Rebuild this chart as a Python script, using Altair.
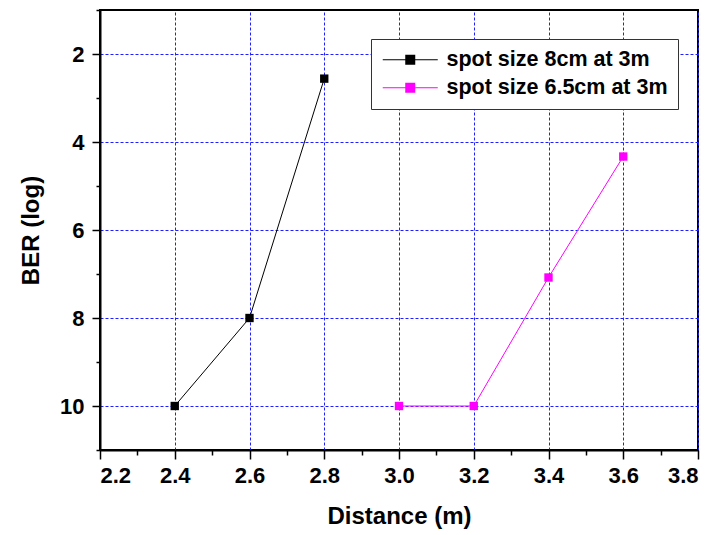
import altair as alt
import pandas as pd

series_a = "spot size 8cm at 3m"
series_b = "spot size 6.5cm at 3m"
dist_a = [2.4, 2.6, 2.8]
ber_a = [10.0, 8.0, 2.56]
dist_b = [3.0, 3.2, 3.4, 3.6]
ber_b = [10.0, 10.0, 7.08, 4.33]

x_ticks = [2.2, 2.3, 2.4, 2.5, 2.6, 2.7, 2.8, 2.9, 3.0, 3.1, 3.2, 3.3, 3.4, 3.5, 3.6, 3.7, 3.8]
y_ticks = [1, 2, 3, 4, 5, 6, 7, 8, 9, 10, 11]

df = pd.DataFrame({
    "Distance": dist_a + dist_b,
    "BER": ber_a + ber_b,
    "Series": [series_a] * len(dist_a) + [series_b] * len(dist_b),
})

FONT = "Liberation Sans"
x_major = "round(datum.value*10) % 2 === 0"
y_major = "datum.value % 2 === 0"

x_enc = alt.X(
    "Distance:Q",
    scale=alt.Scale(domain=[2.2, 3.8], nice=False, zero=False),
    axis=alt.Axis(
        values=x_ticks,
        title="Distance (m)",
        format=".1f",
        labelExpr=f"{x_major} ? datum.label : ''",
        tickSize={"condition": {"test": x_major, "value": 9}, "value": 5},
        gridOpacity={"condition": {"test": x_major, "value": 1}, "value": 0},
        gridColor="#2020ff",
        grid=True,
        labelPadding=6,
        titlePadding=18,
    ),
)
y_enc = alt.Y(
    "BER:Q",
    scale=alt.Scale(domain=[1, 11], reverse=True, nice=False, zero=False),
    axis=alt.Axis(
        values=y_ticks,
        title="BER (log)",
        labelExpr=f"{y_major} ? datum.label : ''",
        tickSize={"condition": {"test": y_major, "value": 8}, "value": 4},
        gridOpacity={"condition": {"test": y_major, "value": 1}, "value": 0},
        gridColor="#2020ff",
        grid=True,
        labelPadding=8,
        titlePadding=16,
    ),
)
color_scale = alt.Scale(domain=[series_a, series_b], range=["#000000", "#ff00ff"])

# legend glyph: a line with a square on it (units of 10 px, symbolSize 400)
legend_path = "M-0.9,-0.05H4.6V0.05H-0.9Z M1.35,-0.5H2.35V0.5H1.35Z"

color_enc = alt.Color(
    "Series:N", scale=color_scale, sort=[series_a, series_b],
    legend=alt.Legend(
        title=None,
        orient="none",
        legendX=271,
        legendY=29,
        symbolType=legend_path,
        symbolSize=400,
        symbolStrokeWidth=0,
        labelFont=FONT,
        labelFontSize=21.5,
        labelFontWeight="bold",
        labelColor="#000000",
        labelOffset=44,
        padding=10,
        rowPadding=5,
        strokeColor="#333333",
        fillColor="#ffffff",
        labelLimit=400,
    ),
)

lines = alt.Chart(df).mark_line(strokeWidth=1).encode(
    x=x_enc, y=y_enc, color=color_enc,
)
points = alt.Chart(df).mark_square(size=70, opacity=1, filled=True).encode(
    x=x_enc, y=y_enc, color=color_enc,
)

chart = (
    alt.layer(lines, points)
    .properties(
        width=598,
        height=440,
        autosize=alt.AutoSizeParams(type="none"),
        padding={"left": 92, "top": 2, "right": 9, "bottom": 85},
        background="#ffffff",
    )
    .configure_view(stroke="#000000", strokeWidth=2)
    .configure_axis(
        domainColor="#000000",
        domainWidth=2,
        tickColor="#000000",
        tickWidth=1.5,
        gridDash=[3, 2],
        gridWidth=1,
        labelFont=FONT,
        labelFontSize=22,
        labelFontWeight="bold",
        labelColor="#000000",
        titleFont=FONT,
        titleFontSize=24,
        titleFontWeight="bold",
        titleColor="#000000",
    )
)

chart.save("out.html", embed_options={"renderer": "svg", "actions": False})
